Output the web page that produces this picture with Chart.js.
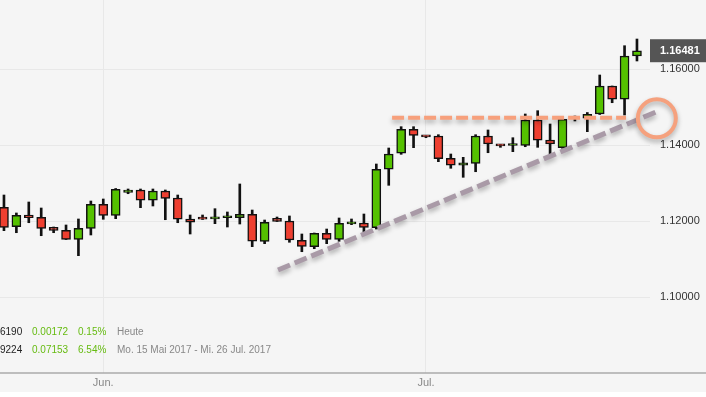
<!DOCTYPE html>
<html>
<head>
<meta charset="utf-8">
<script src="https://cdn.jsdelivr.net/npm/chart.js@4/dist/chart.umd.min.js"></script>
<style>
    html, body { margin: 0; padding: 0; background: #fff; }
    #wrap { position: relative; width: 706px; height: 392px; background: #f5f5f5; overflow: hidden; }
    #info { position: absolute; left: 0; top: 0; font: 10px "Liberation Sans", Arial, sans-serif; }
    #info span { position: absolute; white-space: nowrap; line-height: 12px; }
</style>
</head>
<body>
<div id="wrap">
    <canvas id="fxChart" width="706" height="392"></canvas>
    <div id="info"></div>
</div>
<script>
// Daily candles (left to right)
const opens  = [1.12361, 1.11850, 1.12158, 1.12097, 1.11834, 1.11755, 1.11518, 1.11808, 1.12439, 1.12150,
                1.12755, 1.12816, 1.12545, 1.12789, 1.12605, 1.12053, 1.12055, 1.12058, 1.12085, 1.12087,
                1.12176, 1.11461, 1.12071, 1.12000, 1.11492, 1.11324, 1.11676, 1.11518, 1.11926, 1.11947,
                1.11824, 1.13361, 1.13782, 1.14413, 1.14225, 1.14237, 1.13650, 1.13466, 1.13518, 1.14237,
                1.13985, 1.13988, 1.13992, 1.14658, 1.14132, 1.13929, 1.14705, 1.14703, 1.14816, 1.15553,
                1.15203, 1.16342];
const highs  = [1.12684, 1.12211, 1.12500, 1.12342, 1.11842, 1.11895, 1.12053, 1.12526, 1.12579, 1.12855,
                1.12842, 1.12842, 1.12842, 1.12816, 1.12684, 1.12158, 1.12158, 1.12324, 1.12237, 1.12974,
                1.12289, 1.12026, 1.12105, 1.12132, 1.11658, 1.11684, 1.11789, 1.12079, 1.12053, 1.12184,
                1.13500, 1.13921, 1.14482, 1.14482, 1.14245, 1.14271, 1.13763, 1.13676, 1.14271, 1.14395,
                1.14018, 1.14192, 1.14816, 1.14903, 1.14553, 1.14697, 1.14763, 1.14855, 1.15842, 1.15553,
                1.16613, 1.16789];
const lows   = [1.11745, 1.11692, 1.11955, 1.11613, 1.11692, 1.11513, 1.11087, 1.11632, 1.12045, 1.12061,
                1.12718, 1.12350, 1.12395, 1.12034, 1.11955, 1.11658, 1.12040, 1.11929, 1.11842, 1.11921,
                1.11324, 1.11403, 1.11987, 1.11440, 1.11192, 1.11271, 1.11403, 1.11466, 1.11903, 1.11718,
                1.11789, 1.12939, 1.13755, 1.13929, 1.14192, 1.13561, 1.13387, 1.13150, 1.13297, 1.13797,
                1.13939, 1.13824, 1.13955, 1.13939, 1.13737, 1.13913, 1.14632, 1.14350, 1.14803, 1.15113,
                1.14789, 1.16211];
const closes = [1.11834, 1.12150, 1.12087, 1.11808, 1.11755, 1.11518, 1.11808, 1.12439, 1.12150, 1.12834,
                1.12816, 1.12545, 1.12789, 1.12597, 1.12045, 1.11966, 1.12050, 1.12064, 1.12090, 1.12176,
                1.11466, 1.11966, 1.11992, 1.11500, 1.11334, 1.11676, 1.11518, 1.11939, 1.11932, 1.11834,
                1.13361, 1.13763, 1.14413, 1.14255, 1.14212, 1.13639, 1.13466, 1.13534, 1.14237, 1.14026,
                1.13978, 1.13995, 1.14658, 1.14124, 1.14026, 1.14676, 1.14715, 1.14808, 1.15553, 1.15203,
                1.16342, 1.16481];

const monthTicks = [{ index: 8, label: 'Jun.' }, { index: 34, label: 'Jul.' }];
const priceTicks = [1.10, 1.12, 1.14, 1.16];
const lastPrice = 1.16481;

// hand-drawn marks on the original screenshot
const resistance = [{ x: 31.27, y: 1.14718 }, { x: 50.12, y: 1.14718 }];
const trendLine  = [{ x: 22.08, y: 1.10711 }, { x: 52.59, y: 1.14876 }];
const marker     = [{ x: 52.6, y: 1.14703 }];

const infoRows = [
    ['6190', '0.00172', '0.15%', 'Heute'],
    ['9224', '0.07153', '6.54%', 'Mo. 15 Mai 2017 - Mi. 26 Jul. 2017']
];

const font = '"Liberation Sans", Arial, sans-serif';
const idx = opens.map((_, i) => i);

// info lines bottom left
const info = document.getElementById('info');
const colLeft = [0, 32, 78, 117];
const colColor = ['#222', '#66bb11', '#66bb11', '#888'];
infoRows.forEach((row, r) => {
    row.forEach((txt, c) => {
        const s = document.createElement('span');
        s.textContent = txt;
        s.style.left = colLeft[c] + 'px';
        s.style.top = (326 + r * 18) + 'px';
        s.style.color = colColor[c];
        info.appendChild(s);
    });
});

const shadowPlugin = {
    id: 'shadow',
    beforeDatasetDraw(chart, args) {
        if (!chart.data.datasets[args.index].shadow) return;
        const c = chart.ctx;
        c.save();
        c.shadowColor = 'rgba(0,0,0,0.3)';
        c.shadowBlur = 5;
        c.shadowOffsetY = 3;
    },
    afterDatasetDraw(chart, args) {
        if (chart.data.datasets[args.index].shadow) chart.ctx.restore();
    }
};

// base line across the whole width + current price tag on the axis
const frame = {
    id: 'frame',
    afterDraw(chart) {
        const c = chart.ctx, y = chart.scales.y.getPixelForValue(lastPrice);
        const left = chart.chartArea.right, bottom = chart.chartArea.bottom;
        c.save();
        c.strokeStyle = '#aaa';
        c.lineWidth = 1.5;
        c.beginPath();
        c.moveTo(0, bottom);
        c.lineTo(chart.width, bottom);
        c.stroke();
        c.fillStyle = '#555';
        c.fillRect(left, y - 11.5, chart.width - left, 23);
        c.fillStyle = '#fff';
        c.font = 'bold 11px ' + font;
        c.textBaseline = 'middle';
        c.fillText(lastPrice.toFixed(5), left + 10, y);
        c.restore();
    }
};

// keep the plot flush with the canvas edges
const noPad = s => { s.paddingTop = 0; s.paddingBottom = 0; s.paddingLeft = 0; s.paddingRight = 0; };

new Chart(document.getElementById('fxChart'), {
    type: 'bar',
    data: {
        datasets: [
            {
                type: 'line', data: marker, showLine: false, clip: false, shadow: true,
                pointRadius: 19, pointBorderWidth: 4, pointBorderColor: '#f5a17e',
                pointBackgroundColor: 'rgba(0,0,0,0)', order: 0
            },
            {
                type: 'line', data: resistance, borderColor: '#f7a07c', borderWidth: 4,
                borderDash: [12, 4], pointRadius: 0, clip: false, shadow: true, order: 1
            },
            {
                type: 'line', data: trendLine, borderColor: '#a99aa7', borderWidth: 5,
                borderDash: [13, 5], pointRadius: 0, clip: false, shadow: true, order: 2
            },
            {
                data: idx.map(i => ({ x: i, y: [opens[i], closes[i]] })),
                backgroundColor: idx.map(i => closes[i] >= opens[i] ? '#55c100' : '#ee3f30'),
                borderColor: '#111', borderWidth: 1.5, borderSkipped: false,
                barThickness: 9, minBarLength: 2, grouped: false, order: 3
            },
            {
                data: idx.map(i => ({ x: i, y: [lows[i], highs[i]] })),
                backgroundColor: '#111', barThickness: 2, grouped: false, order: 4
            }
        ]
    },
    options: {
        responsive: false,
        animation: false,
        events: [],
        layout: { padding: 0, autoPadding: false },
        plugins: { legend: { display: false }, tooltip: { enabled: false } },
        scales: {
            x: {
                type: 'linear', min: -0.32, max: 52.05, offset: false,
                afterBuildTicks: s => { s.ticks = monthTicks.map(t => ({ value: t.index })); },
                afterFit: s => { s.height = 19; noPad(s); },
                grid: { color: '#e8e8e8', drawTicks: false, offset: false },
                border: { display: false },
                ticks: {
                    callback: v => (monthTicks.find(t => t.index === v) || {}).label,
                    color: '#888', font: { size: 11, family: font }, padding: 3,
                    maxRotation: 0, autoSkip: false
                }
            },
            y: {
                position: 'right', min: 1.08, max: 1.178158,
                afterBuildTicks: s => { s.ticks = priceTicks.map(v => ({ value: v })); },
                afterFit: s => { s.width = 56; noPad(s); },
                grid: { color: '#e8e8e8', drawTicks: false },
                border: { display: false },
                ticks: { callback: v => v.toFixed(5), color: '#333', font: { size: 11, family: font }, padding: 10 }
            }
        }
    },
    plugins: [shadowPlugin, frame]
});
</script>
</body>
</html>
